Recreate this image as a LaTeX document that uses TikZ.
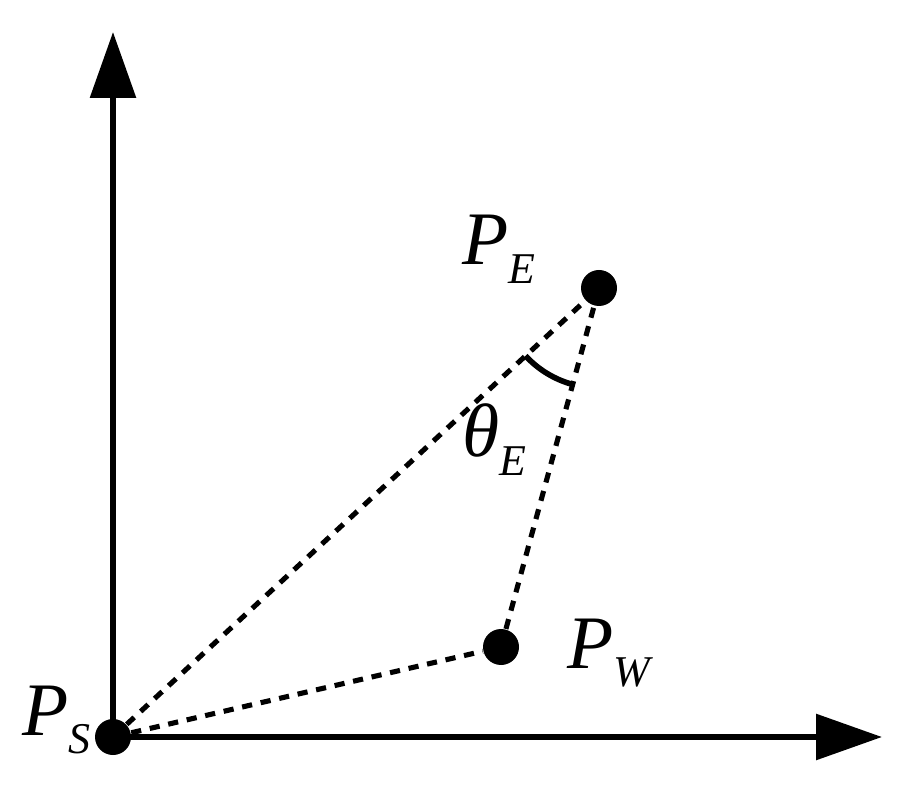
\documentclass[tikz,border=0pt]{standalone}
\usepackage{fontspec}
\setmainfont{Liberation Serif}
\usetikzlibrary{arrows.meta,angles}

\newcommand{\lbl}[2]{\textit{#1}\raisebox{-0.24em}{\fontsize{12.5}{14}\selectfont\textit{#2}}}

\begin{document}
\begin{tikzpicture} [
            dot/.style = {circle, fill=black, inner sep=0pt, minimum size=0.36cm},
            tag/.style = {anchor=base west, inner sep=0pt, font=\fontsize{21.5}{24}\selectfont},
            axis/.style = {line width=1.7pt, -{Triangle[length=6.6mm, width=4.5mm]}},
            link/.style = {line width=1.45pt, dash pattern=on 2.9pt off 2.5pt},
        ]
            \useasboundingbox (0,0) rectangle (9.10,7.97);

            \node[dot] (S) at (1.13, 0.60) {};
            \node[dot] (E) at (5.99, 5.09) {};
            \node[dot] (W) at (5.01, 1.50) {};
            \coordinate (Y) at (1.13, 7.65);
            \coordinate (X) at (8.82, 0.60);

            \node[tag] (lS) at (0.22, 0.62) {\lbl{P}{S}};
            \node[tag] (lE) at (4.62, 5.32) {\lbl{P}{E}};
            \node[tag] (lW) at (5.67, 1.29) {\lbl{P}{W}};
            \node[tag] (lT) at (4.62, 3.40) {\lbl{θ}{E}};

            \draw[axis] (S.center) -- (Y);
            \draw[axis] (S.center) -- (X);

            \draw[link] (S) -- (E);
            \draw[link] (S) -- (W);
            \draw[link] (W) -- (E);

            \pic [draw, line width=1.6pt, angle radius=1cm] {angle = S--E--W};
        \end{tikzpicture}
\end{document}
